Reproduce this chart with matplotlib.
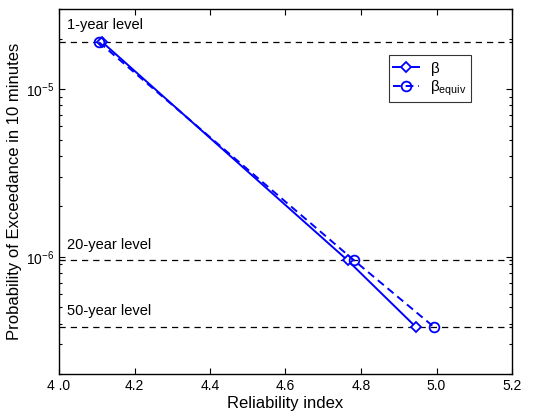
import matplotlib.pyplot as plt
from matplotlib.ticker import FixedLocator, LogLocator, NullFormatter

plt.rcParams["font.family"] = ["Liberation Sans", "DejaVu Sans"]
plt.rcParams["mathtext.fontset"] = "custom"
plt.rcParams["mathtext.rm"] = "Liberation Sans"
plt.rcParams["mathtext.it"] = "Liberation Sans:italic"

# return-period levels (probability of exceedance in 10 minutes)
level_names = ["1-year level", "20-year level", "50-year level"]
level_probs = [1.9e-5, 9.5e-7, 3.8e-7]

beta = [4.115, 4.765, 4.946]
beta_equiv = [4.106, 4.782, 4.994]

xticks = [4.0, 4.2, 4.4, 4.6, 4.8, 5.0, 5.2]
xtick_labels = ["4 .0", "4.2", "4.4", "4.6", "4.8", "5.0", "5.2"]
yticks = [1e-6, 1e-5]
ytick_labels = [r"$\mathregular{10^{-6}}$", r"$\mathregular{10^{-5}}$"]

fig = plt.figure(figsize=(5.34, 4.17), dpi=100)
ax = fig.add_axes([59 / 534, 1 - 374 / 417, 453 / 534, 365 / 417])

for p in level_probs:
    ax.axhline(p, color="black", linestyle=(0, (5, 4)), linewidth=0.9, zorder=1)

ax.plot(beta, level_probs, color="blue", linestyle="-", linewidth=1.4,
        marker="D", markersize=5.5, markerfacecolor="white",
        markeredgecolor="blue", markeredgewidth=1.3, label=r"$\mathregular{\beta}$", zorder=3)
ax.plot(beta_equiv, level_probs, color="blue", linestyle=(0, (4, 2.5)), linewidth=1.4,
        marker="o", markersize=7, markerfacecolor="none",
        markeredgecolor="blue", markeredgewidth=1.3,
        label=r"$\mathregular{\beta_{equiv}}$", zorder=3)

ax.set_yscale("log")
ax.set_xlim(4.0, 5.2)
ax.set_ylim(2e-7, 3e-5)

ax.xaxis.set_major_locator(FixedLocator(xticks))
ax.set_xticklabels(xtick_labels)
ax.yaxis.set_major_locator(FixedLocator(yticks))
ax.set_yticklabels(ytick_labels)
ax.yaxis.set_minor_locator(LogLocator(base=10, subs=range(2, 10), numticks=10))
ax.yaxis.set_minor_formatter(NullFormatter())

ax.tick_params(which="both", direction="in", top=True, right=True, labelsize=10)
ax.tick_params(which="major", length=4, width=0.8)
ax.tick_params(which="minor", length=2.5, width=0.8)
for s in ax.spines.values():
    s.set_linewidth(1.0)

label_y = [2.4e-5, 1.17e-6, 4.75e-7]
for name, y in zip(level_names, label_y):
    ax.text(4.02, y, name, fontsize=10.5, ha="left", va="center")

ax.set_xlabel("Reliability index", fontsize=12, labelpad=2)
ax.set_ylabel("Probability of Exceedance in 10 minutes", fontsize=12, labelpad=3)

leg = ax.legend(loc="upper left", bbox_to_anchor=(0.728, 0.874), fontsize=11,
                frameon=True, fancybox=False, edgecolor="black", handlelength=1.7,
                handletextpad=0.7, borderpad=0.3, labelspacing=0.05,
                borderaxespad=0)
leg.get_frame().set_linewidth(0.8)

fig.savefig("out.png", dpi=100)
